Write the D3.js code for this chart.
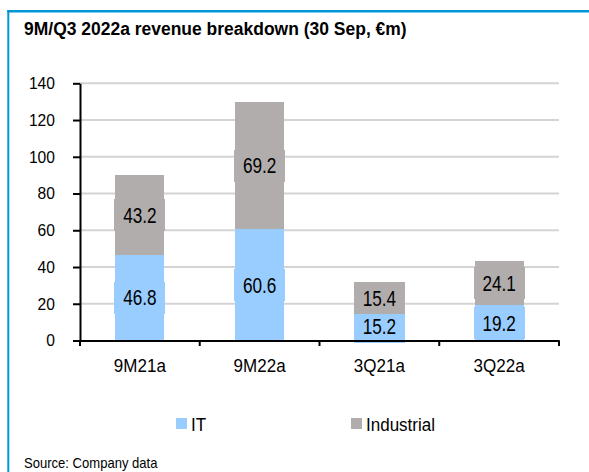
<!DOCTYPE html>
<html lang="en">
<head>
<meta charset="UTF-8" />
<title>9M/Q3 2022a revenue breakdown</title>
<script src="https://cdn.jsdelivr.net/npm/d3@7"></script>
<style>
html, body { margin: 0; padding: 0; background: #fff; }
svg { display: block; font-family: "Liberation Sans", Arial, sans-serif; }
</style>
</head>
<body>
<svg id="chart" width="589" height="472"></svg>
<script>
// data
const categories = ['9M21a', '9M22a', '3Q21a', '3Q22a'];
const itValues = [46.8, 60.6, 15.2, 19.2];
const industrialValues = [43.2, 69.2, 15.4, 24.1];
const seriesNames = ['IT', 'Industrial'];
const yTicks = [0, 20, 40, 60, 80, 100, 120, 140];

const colors = { IT: '#99ccff', Industrial: '#b1adad' };
const blue = '#0096d8';

const svg = d3.select('#chart');

// text in the picture is a bit narrow, squeeze it horizontally
function squish(sel, k) {
  sel.each(function () {
    const t = d3.select(this);
    const x = +t.attr('x') || 0, y = +t.attr('y') || 0;
    t.attr('x', 0).attr('y', 0).attr('transform', `translate(${x},${y}) scale(${k},1)`);
  });
}

// frame
svg.append('line').attr('x1', 8.3).attr('x2', 8.3).attr('y1', 10).attr('y2', 472)
  .attr('stroke', blue).attr('stroke-width', 2);
svg.append('line').attr('x1', 7.3).attr('x2', 589).attr('y1', 11.2).attr('y2', 11.2)
  .attr('stroke', blue).attr('stroke-width', 2.4);

svg.append('text').attr('class', 'title').attr('x', 24).attr('y', 34.5)
  .attr('font-size', 19).attr('font-weight', 'bold').text('9M/Q3 2022a revenue breakdown (30 Sep, €m)')
  .call(squish, 0.92);

const x = d3.scaleBand().domain(categories).range([80, 559]).paddingInner(0.59).paddingOuter(0.295);
const y = d3.scaleLinear().domain([0, 140]).range([340.5, 83.3]);

// gridlines
svg.append('g').selectAll('line').data(yTicks.slice(1)).join('line')
  .attr('x1', 80).attr('x2', 559).attr('y1', d => y(d)).attr('y2', d => y(d))
  .attr('stroke', '#d4d4d4').attr('stroke-width', 2);

const rows = categories.map((c, i) => ({ cat: c, IT: itValues[i], Industrial: industrialValues[i] }));
const stacked = d3.stack().keys(seriesNames)(rows);

const bars = svg.append('g').attr('shape-rendering', 'crispEdges');
stacked.forEach(s => {
  bars.append('g').selectAll('rect').data(s).join('rect')
    .attr('x', d => x(d.data.cat)).attr('width', x.bandwidth())
    .attr('y', d => y(d[1])).attr('height', d => y(d[0]) - y(d[1]))
    .attr('fill', colors[s.key]);
});

// label boxes + labels
const boxH = 32;
stacked.forEach(s => {
  bars.append('g').selectAll('rect').data(s).join('rect')
    .attr('x', d => x(d.data.cat) - 1).attr('width', x.bandwidth() + 2)
    .attr('y', d => y((d[0] + d[1]) / 2) - boxH / 2).attr('height', boxH)
    .attr('fill', colors[s.key]);
});
const labels = svg.append('g');
stacked.forEach(s => {
  labels.append('g').selectAll('text').data(s).join('text')
    .attr('x', d => x(d.data.cat) + x.bandwidth() / 2)
    .attr('y', d => y((d[0] + d[1]) / 2) + 7.8)
    .attr('text-anchor', 'middle').attr('font-size', 21.5).attr('fill', '#000')
    .text(d => (d[1] - d[0]).toFixed(1))
    .call(squish, 0.8);
});

// y axis
const yAxis = svg.append('g').attr('transform', 'translate(80,0)')
  .call(d3.axisLeft(y).tickValues(yTicks).tickSize(7).tickSizeOuter(0).tickPadding(20.2));
yAxis.selectAll('path, line').attr('stroke', '#000').attr('stroke-width', 2);
yAxis.selectAll('text').attr('font-size', 17).attr('fill', '#000').attr('font-family', null)
  .attr('transform', 'scale(0.92,1)');

// x axis
const xAxis = svg.append('g').attr('transform', `translate(0,${y(0)})`)
  .call(d3.axisBottom(x).tickSize(0).tickSizeOuter(0).tickPadding(18.5));
xAxis.select('.domain').attr('stroke', '#000').attr('stroke-width', 2);
xAxis.selectAll('text').attr('font-size', 18.5).attr('fill', '#000').attr('font-family', null)
  .attr('transform', 'scale(0.92,1)');
const half = x.step() * x.paddingInner() / 2;
const edges = categories.map(c => x(c) - half).concat([x.range()[1]]);
xAxis.selectAll('line.edge').data(edges).join('line').attr('class', 'edge')
  .attr('x1', d => d).attr('x2', d => d).attr('y1', 0).attr('y2', 5.5)
  .attr('stroke', '#000').attr('stroke-width', 2);

// legend
const legendX = [176, 351];
const legend = svg.append('g');
seriesNames.forEach((n, i) => {
  legend.append('rect').attr('x', legendX[i]).attr('y', 418).attr('width', 11).attr('height', 11)
    .attr('fill', colors[n]);
  legend.append('text').attr('x', legendX[i] + 15).attr('y', 430.5).attr('font-size', 18.5)
    .text(n).call(squish, 0.92);
});

svg.append('text').attr('x', 24).attr('y', 468).attr('font-size', 14.2).text('Source: Company data')
  .call(squish, 0.92);
</script>
</body>
</html>
